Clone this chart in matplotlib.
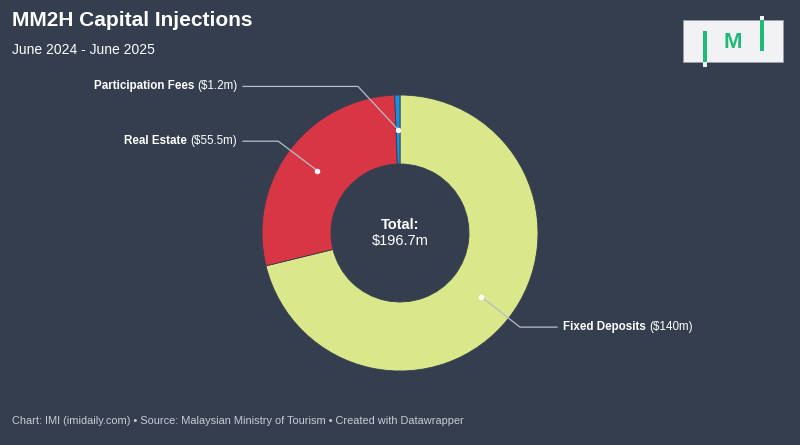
import numpy as np
import matplotlib
matplotlib.use("Agg")
import matplotlib.pyplot as plt
from matplotlib.patches import Rectangle

# datos
categories = ["Fixed Deposits", "Real Estate", "Participation Fees"]
values = [140.0, 55.5, 1.2]
value_labels = ["$140m", "$55.5m", "$1.2m"]
colors = ["#dbe78b", "#d83545", "#1b8fe3"]
total_label = "$196.7m"

BG = "#343e4f"
plt.rcParams["font.family"] = ["Liberation Sans", "DejaVu Sans"]

fig = plt.figure(figsize=(8, 4.45), dpi=100, facecolor=BG)
ax = fig.add_axes([0, 0, 1, 1])
ax.set_facecolor(BG)
ax.set_xlim(0, 800)
ax.set_ylim(445, 0)   # coordenadas en pixeles, y hacia abajo
ax.set_aspect("equal")
ax.axis("off")

cx, cy, R = 400, 233, 138
wedges, _ = ax.pie(values, colors=colors, startangle=-90, counterclock=True,
                   center=(cx, cy), radius=R,
                   wedgeprops=dict(width=R / 2, edgecolor=BG, linewidth=0.6))
ax.set_xlim(0, 800)
ax.set_ylim(445, 0)

# texto central
ax.text(cx, 225, "Total:", ha="center", va="center", color="white",
        fontsize=10.5, fontweight="bold")
ax.text(cx, 241, total_label, ha="center", va="center", color="white", fontsize=10.5)

# etiquetas con lineas guia
renderer = fig.canvas.get_renderer()
line_col = "#b9bec6"
elbow_angle_override = {2: 106}   # evitar choque con Real Estate
for i, w in enumerate(wedges):
    mid = np.deg2rad((w.theta1 + w.theta2) / 2)
    rd = R * 0.75
    px, py = cx + rd * np.cos(mid), cy + rd * np.sin(mid)
    ang = mid
    if i in elbow_angle_override:
        ang = np.deg2rad(-elbow_angle_override[i])
    ex, ey = cx + R * 1.105 * np.cos(ang), cy + R * 1.105 * np.sin(ang)
    right = np.cos(mid) > 0
    hx = cx + 157 if right else cx - 157
    ax.plot([px, ex, hx], [py, ey, ey], color=line_col, lw=0.9, zorder=3)
    ax.plot(px, py, "o", color="white", ms=4, mec="none", zorder=4)
    if right:
        tx = cx + 163
        tb = ax.text(tx, ey, categories[i], ha="left", va="center", color="white",
                     fontsize=8.4, fontweight="bold")
        wb = tb.get_window_extent(renderer).width
        ax.text(tx + wb + 3, ey, "(" + value_labels[i] + ")", ha="left", va="center",
                color="white", fontsize=8.4)
    else:
        tx = cx - 163
        tr = ax.text(tx, ey, "(" + value_labels[i] + ")", ha="right", va="center",
                     color="white", fontsize=8.4)
        wr = tr.get_window_extent(renderer).width
        ax.text(tx - wr - 3, ey, categories[i], ha="right", va="center", color="white",
                fontsize=8.4, fontweight="bold")

# titulo y subtitulo
ax.text(12, 20.5, "MM2H Capital Injections", ha="left", va="center", color="white",
        fontsize=15, fontweight="bold")
ax.text(12, 50, "June 2024 - June 2025", ha="left", va="center", color="white",
        fontsize=10)

# pie de pagina
ax.text(12, 421, "Chart: IMI (imidaily.com) \u2022 Source: Malaysian Ministry of Tourism "
        "\u2022 Created with Datawrapper", ha="left", va="center", color="#c9ccd2",
        fontsize=7.9)

# logo
green = "#1fb97a"
ax.add_patch(Rectangle((683, 20), 100, 42, facecolor="#f2f2f4", edgecolor="#9aa0aa",
                       lw=0.6, zorder=5))
ax.add_patch(Rectangle((702.5, 62), 4, 5, facecolor="#f2f2f4", edgecolor="none", zorder=6))
ax.add_patch(Rectangle((702.5, 31), 4, 31, facecolor=green, edgecolor="none", zorder=6))
ax.add_patch(Rectangle((759.5, 15.5), 4.5, 5, facecolor="#f2f2f4", edgecolor="none", zorder=6))
ax.add_patch(Rectangle((759.5, 20), 4.5, 31, facecolor=green, edgecolor="none", zorder=6))
ax.text(733, 43, "M", ha="center", va="center", color=green, fontsize=16,
        fontweight="bold", zorder=7)

fig.savefig("out.png", dpi=100, facecolor=BG)
